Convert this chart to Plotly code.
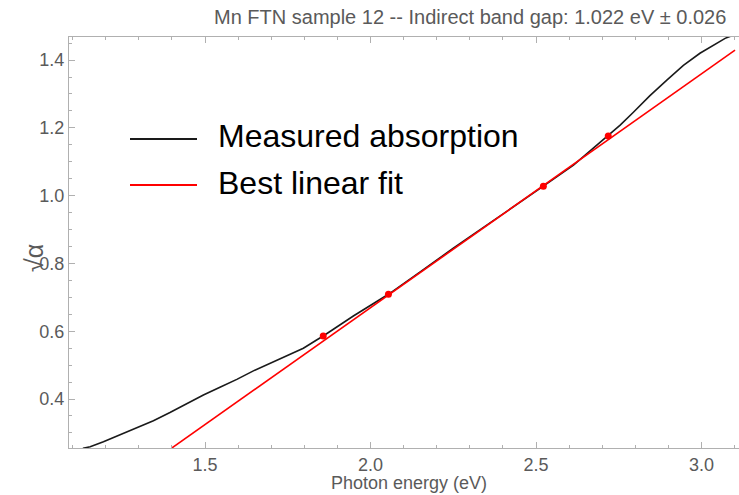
import plotly.graph_objects as go

# Measured absorption curve (sqrt(alpha) vs photon energy)
energy_eV = [1.131, 1.153, 1.193, 1.243, 1.294, 1.344, 1.394, 1.445, 1.495, 1.545,
             1.596, 1.646, 1.696, 1.747, 1.797, 1.837, 1.857, 1.948, 2.054, 2.150,
             2.250, 2.351, 2.452, 2.522, 2.613, 2.718, 2.754, 2.794, 2.844, 2.895,
             2.945, 2.995, 3.036, 3.071, 3.113, 3.150]
sqrt_alpha = [0.255, 0.259, 0.274, 0.294, 0.315, 0.336, 0.360, 0.387, 0.412, 0.435,
              0.458, 0.483, 0.505, 0.527, 0.550, 0.574, 0.586, 0.645, 0.709, 0.775,
              0.845, 0.913, 0.980, 1.028, 1.090, 1.176, 1.208, 1.246, 1.295, 1.341,
              1.384, 1.420, 1.445, 1.464, 1.480, 1.495]

# Best linear fit (endpoints)
fit_x = [1.399, 3.101]
fit_y = [0.255, 1.429]

# Fit points marked on the curve
pts_x = [1.857, 2.054, 2.522, 2.718]
pts_y = [0.586, 0.709, 1.028, 1.176]

title_text = "Mn FTN sample 12 -- Indirect band gap: 1.022 eV \u00b1 0.026"
x_label = "Photon energy (eV)"
y_label = "\u221a\u03b1"
legend_labels = ["Measured absorption", "Best linear fit"]

W, H = 739, 495
L, R, T, B = 69, 0, 37, 47
pw, ph = W - L - R, H - T - B

def px(xp):
    return (xp - L) / pw

def py(yp):
    return (H - B - yp) / ph

FONT = "Liberation Sans, Arial, sans-serif"
frame_col = "#b0b0b0"
text_col = "#5a5a5a"

fig = go.Figure()
fig.add_trace(go.Scatter(x=energy_eV, y=sqrt_alpha, mode="lines",
                         line=dict(color="#1a1a1a", width=1.6),
                         name=legend_labels[0], showlegend=False))
fig.add_trace(go.Scatter(x=fit_x, y=fit_y, mode="lines",
                         line=dict(color="#ff0000", width=1.6),
                         name=legend_labels[1], showlegend=False))
fig.add_trace(go.Scatter(x=pts_x, y=pts_y, mode="markers",
                         marker=dict(color="#ff0000", size=7),
                         showlegend=False))

# manual legend
leg_rows = [(139, 136, "#1a1a1a"), (185, 183, "#ff0000")]
shapes = []
annotations = []
for (ly, ty, col), lab in zip(leg_rows, legend_labels):
    shapes.append(dict(type="line", xref="paper", yref="paper",
                       x0=px(130), x1=px(197), y0=py(ly), y1=py(ly),
                       line=dict(color=col, width=2)))
    annotations.append(dict(xref="paper", yref="paper", x=px(216), y=py(ty),
                            text=lab, showarrow=False, xanchor="left",
                            yanchor="middle",
                            font=dict(family=FONT, size=32, color="black")))

annotations.append(dict(xref="paper", yref="paper", x=px(470), y=py(17),
                        text=title_text, showarrow=False, xanchor="center",
                        yanchor="middle",
                        font=dict(family=FONT, size=20, color=text_col)))
annotations.append(dict(xref="paper", yref="paper", x=px(409), y=py(483),
                        text=x_label, showarrow=False, xanchor="center",
                        yanchor="middle",
                        font=dict(family=FONT, size=18, color=text_col)))
annotations.append(dict(xref="paper", yref="paper", x=px(34), y=py(258),
                        text=y_label, showarrow=False, textangle=-90,
                        xanchor="center", yanchor="middle",
                        font=dict(family=FONT, size=25, color=text_col)))

fig.update_layout(
    width=W, height=H,
    margin=dict(l=L, r=R, t=T, b=B),
    paper_bgcolor="white", plot_bgcolor="white",
    shapes=shapes, annotations=annotations,
    showlegend=False,
)
fig.update_xaxes(range=[1.089, 3.113], showgrid=False, zeroline=False,
                 showline=True, linecolor=frame_col, linewidth=1, mirror="ticks",
                 ticks="inside", ticklen=6, tickcolor=frame_col,
                 tickvals=[1.5, 2.0, 2.5, 3.0], ticktext=["1.5", "2.0", "2.5", "3.0"],
                 minor=dict(ticks="inside", ticklen=3, tickcolor=frame_col, dtick=0.1,
                            tick0=1.0, showgrid=False),
                 tickfont=dict(family=FONT, size=18, color=text_col))
fig.update_yaxes(range=[0.2555, 1.468], showgrid=False, zeroline=False,
                 showline=True, linecolor=frame_col, linewidth=1, mirror=False,
                 ticks="inside", ticklen=6, tickcolor=frame_col,
                 tickvals=[0.4, 0.6, 0.8, 1.0, 1.2, 1.4],
                 ticktext=["0.4", "0.6", "0.8", "1.0", "1.2", "1.4"],
                 minor=dict(ticks="inside", ticklen=3, tickcolor=frame_col, dtick=0.05,
                            tick0=0.0, showgrid=False),
                 tickfont=dict(family=FONT, size=18, color=text_col))

fig.write_html("out.html")
